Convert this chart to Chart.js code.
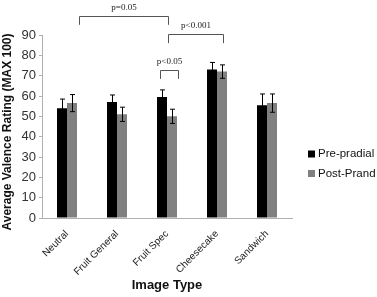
<!DOCTYPE html>
<html><head><meta charset="utf-8">
<script src="https://cdn.jsdelivr.net/npm/chart.js@4"></script>
<style>html,body{margin:0;padding:0;background:#fff}#wrap{width:377px;height:297px}</style>
</head><body><div id="wrap"><canvas id="c" width="377" height="297"></canvas></div>
<script>
const categories = ["Neutral", "Fruit General", "Fruit Spec", "Cheesecake", "Sandwich"];
const seriesNames = ["Pre-pradial", "Post-Prand"];
const preValues = [54, 57, 59.5, 73, 55.5];
const postValues = [56.5, 51, 50, 72, 56.5];
const preErrors = [4.5, 3.5, 3.5, 3.5, 5.5];
const postErrors = [4.2, 3.5, 3.5, 3.3, 4.5];
const yTicks = [0, 10, 20, 30, 40, 50, 60, 70, 80, 90];
const yTitle = "Average Valence Rating (MAX 100)";
const xTitle = "Image Type";
const bracketLabels = ["p=0.05", "p<0.001", "p<0.05"];
// bracket spans: [category, offset in category widths]
const bracketFrom = [[0, 0.24], [2, 0.02], [2, -0.15]];
const bracketTo = [[2, 0.02], [3, 0.12], [2, 0.22]];
const bracketTop = [99.4, 90.6, 72.8];
const bracketLeg = [95, 86, 68.4];

const colors = ["#000000", "#808080"];

const errorBarPlugin = {
  id: 'errbars',
  afterDatasetsDraw(chart) {
    const ctx = chart.ctx, y = chart.scales.y;
    const errs = [preErrors, postErrors];
    ctx.save();
    ctx.strokeStyle = '#000'; ctx.lineWidth = 1;
    chart.data.datasets.forEach((ds, di) => {
      const meta = chart.getDatasetMeta(di);
      meta.data.forEach((bar, i) => {
        const v = ds.data[i], e = errs[di][i];
        const x = Math.round(bar.x) + 0.5;
        const yt = y.getPixelForValue(v + e), yb = y.getPixelForValue(v - e);
        ctx.beginPath();
        ctx.moveTo(x, yt); ctx.lineTo(x, yb);
        ctx.moveTo(x - 2.5, yt); ctx.lineTo(x + 2.5, yt);
        ctx.moveTo(x - 2.5, yb); ctx.lineTo(x + 2.5, yb);
        ctx.stroke();
      });
    });
    const xs = chart.scales.x;
    const catW = xs.getPixelForValue(1) - xs.getPixelForValue(0);
    ctx.strokeStyle = '#555'; ctx.lineWidth = 1;
    ctx.fillStyle = '#222';
    ctx.font = '9px "Liberation Serif", serif';
    ctx.textAlign = 'center'; ctx.textBaseline = 'bottom';
    bracketLabels.forEach((lab, k) => {
      const x1 = Math.round(xs.getPixelForValue(bracketFrom[k][0]) + bracketFrom[k][1] * catW) + 0.5;
      const x2 = Math.round(xs.getPixelForValue(bracketTo[k][0]) + bracketTo[k][1] * catW) + 0.5;
      const yt = Math.round(y.getPixelForValue(bracketTop[k])) + 0.5;
      const yl = y.getPixelForValue(bracketLeg[k]);
      ctx.beginPath();
      ctx.moveTo(x1, yl); ctx.lineTo(x1, yt); ctx.lineTo(x2, yt); ctx.lineTo(x2, yl);
      ctx.stroke();
      ctx.fillText(lab, (x1 + x2) / 2, yt - 4);
    });
    ctx.restore();
  }
};

const legendPlugin = {
  id: 'customLegend',
  afterDraw(chart) {
    const ctx = chart.ctx;
    ctx.save();
    // y axis title
    ctx.font = 'bold 12px "Liberation Sans", Arial, sans-serif';
    ctx.fillStyle = '#111';
    ctx.textAlign = 'center'; ctx.textBaseline = 'middle';
    ctx.translate(8, 132);
    ctx.rotate(-Math.PI / 2);
    ctx.fillText(yTitle, 0, 0);
    ctx.restore();
    ctx.save();
    ctx.font = '11.5px "Liberation Sans", Arial, sans-serif';
    ctx.textBaseline = 'middle'; ctx.textAlign = 'left';
    const area = chart.chartArea;
    const x0 = area.right + 16;
    chart.data.datasets.forEach((ds, i) => {
      const yc = 154 + i * 19.5;
      ctx.fillStyle = ds.backgroundColor;
      ctx.fillRect(x0, yc - 3.5, 7, 7);
      ctx.fillStyle = '#111';
      ctx.fillText(ds.label, x0 + 10, yc);
    });
    ctx.restore();
  }
};

new Chart(document.getElementById('c'), {
  type: 'bar',
  data: {
    labels: categories,
    datasets: [
      { label: seriesNames[0], data: preValues, backgroundColor: colors[0] },
      { label: seriesNames[1], data: postValues, backgroundColor: colors[1] }
    ]
  },
  options: {
    responsive: false, animation: false,
    layout: { padding: { top: 35, right: 85, left: 0, bottom: 0 } },
    datasets: { bar: { categoryPercentage: 0.4, barPercentage: 1.0 } },
    plugins: { legend: { display: false }, tooltip: { enabled: false } },
    scales: {
      x: {
        grid: { display: false },
        border: { color: '#b0b0b0' },
        ticks: { color: '#222', font: { family: '"Liberation Sans", Arial', size: 10 }, maxRotation: 45, minRotation: 45, padding: 2 },
        title: { display: true, text: xTitle, color: '#111', font: { family: '"Liberation Sans", Arial', size: 13, weight: 'bold' }, padding: { top: 4 } },
        afterFit(s) { s.height = 79; }
      },
      y: {
        min: 0, max: 90,
        afterBuildTicks(s) { s.ticks = yTicks.map(v => ({ value: v })); },
        grid: { drawOnChartArea: false, drawTicks: true, tickLength: 3, color: '#b0b0b0' },
        border: { color: '#b0b0b0' },
        ticks: { color: '#333', font: { family: '"Liberation Sans", Arial', size: 13 }, padding: 3 },
        title: { display: false },
        afterFit(s) { s.width = 42; }
      }
    }
  },
  plugins: [errorBarPlugin, legendPlugin]
});
</script>
</body></html>
